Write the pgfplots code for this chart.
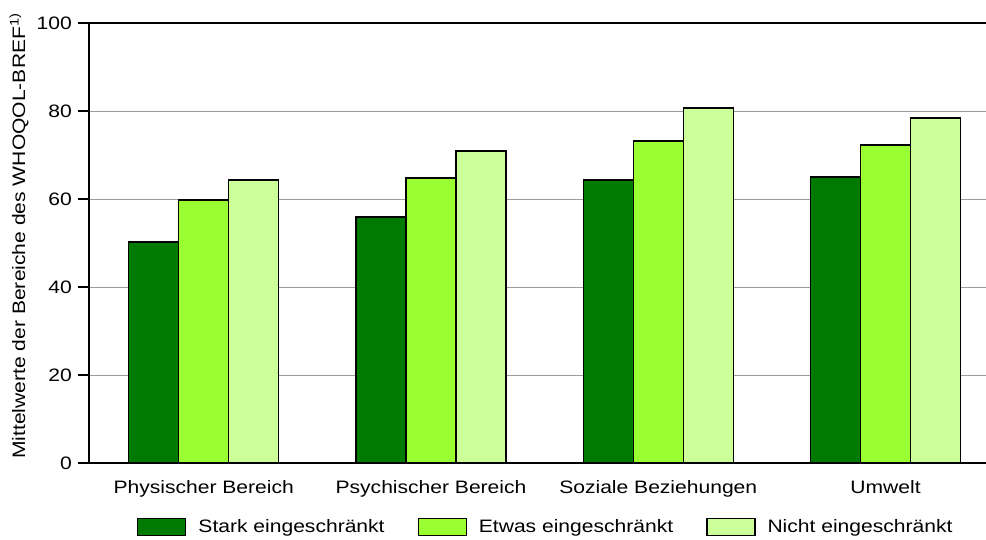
\documentclass[border=0pt]{standalone}
\usepackage{fontspec}
\setmainfont{Liberation Sans}[FakeStretch=1.17]
\usepackage{pgfplots}
\pgfplotsset{compat=1.18}
\definecolor{cdark}{RGB}{0,122,0}
\definecolor{cmid}{RGB}{153,255,51}
\definecolor{clight}{RGB}{204,255,153}
\definecolor{cgrid}{RGB}{155,155,155}
\begin{document}
\fontsize{18}{21}\selectfont
\begin{tikzpicture}
\begin{axis}[
  name=ax,
  at={(0pt,0pt)}, anchor=south west,
  scale only axis,
  clip=false,
  width=909pt, height=440pt,
  xmin=-0.505, xmax=3.495,
  ymin=0, ymax=100,
  ytick={0,20,...,100},
  xtick={0,1,2,3},
  xticklabels={Physischer Bereich,Psychischer Bereich,Soziale Beziehungen,Umwelt},
  xtick pos=bottom,
  ytick pos=left,
  tick align=outside,
  major tick length=11pt,
  xtick style={draw=none},
  ytick style={draw=black, line width=1.2pt},
  ymajorgrids,
  grid style={cgrid, line width=1pt},
  axis line style={black, line width=1.5pt},
  tick label style={font=\fontsize{18}{21}\selectfont},
  /pgf/number format/assume math mode=true,
  xticklabel style={yshift=0pt},
  ylabel={Mittelwerte der Bereiche des WHOQOL-BREF\textsuperscript{1)}},
  ylabel style={font=\fontsize{18.8}{22}\selectfont},
  every axis y label/.style={at={(axis description cs:-0.077,0.516)}, rotate=90, anchor=center},
  ybar, bar width=0.22,
  legend columns=3,
  legend style={draw=none, fill=none, inner sep=0pt, at={(48pt,-64pt)}, anchor=west, font=\fontsize{18}{21}\selectfont,
    /tikz/column 1/.style={column sep=10pt},
    /tikz/column 2/.style={column sep=31pt},
    /tikz/column 3/.style={column sep=10pt},
    /tikz/column 4/.style={column sep=31pt},
    /tikz/column 5/.style={column sep=10pt}},
]
\addplot[fill=cdark, draw=black, line width=1.3pt, bar shift=-0.22,
  legend image code/.code={\draw[fill=cdark, draw=black, line width=1.3pt] (0pt,-8.5pt) rectangle (48pt,8.5pt);}]
  coordinates {(0,50.2) (1,55.9) (2,64.3) (3,65.0)};
\addlegendentry{Stark eingeschränkt}
\addplot[fill=cmid, draw=black, line width=1.3pt, bar shift=0,
  legend image code/.code={\draw[fill=cmid, draw=black, line width=1.3pt] (0pt,-8.5pt) rectangle (48pt,8.5pt);}]
  coordinates {(0,59.8) (1,64.8) (2,73.2) (3,72.3)};
\addlegendentry{Etwas eingeschränkt}
\addplot[fill=clight, draw=black, line width=1.3pt, bar shift=0.22,
  legend image code/.code={\draw[fill=clight, draw=black, line width=1.3pt] (0pt,-8.5pt) rectangle (48pt,8.5pt);}]
  coordinates {(0,64.3) (1,70.9) (2,80.7) (3,78.4)};
\addlegendentry{Nicht eingeschränkt}
\end{axis}
\foreach \k in {0,...,5}{
  \draw[black, line width=1.3pt] (0pt,\k*88pt) -- (-11pt,\k*88pt);
}
\pgfresetboundingbox
\path[use as bounding box] (-89pt,-76pt) rectangle (897pt,463pt);
\end{tikzpicture}
\end{document}
